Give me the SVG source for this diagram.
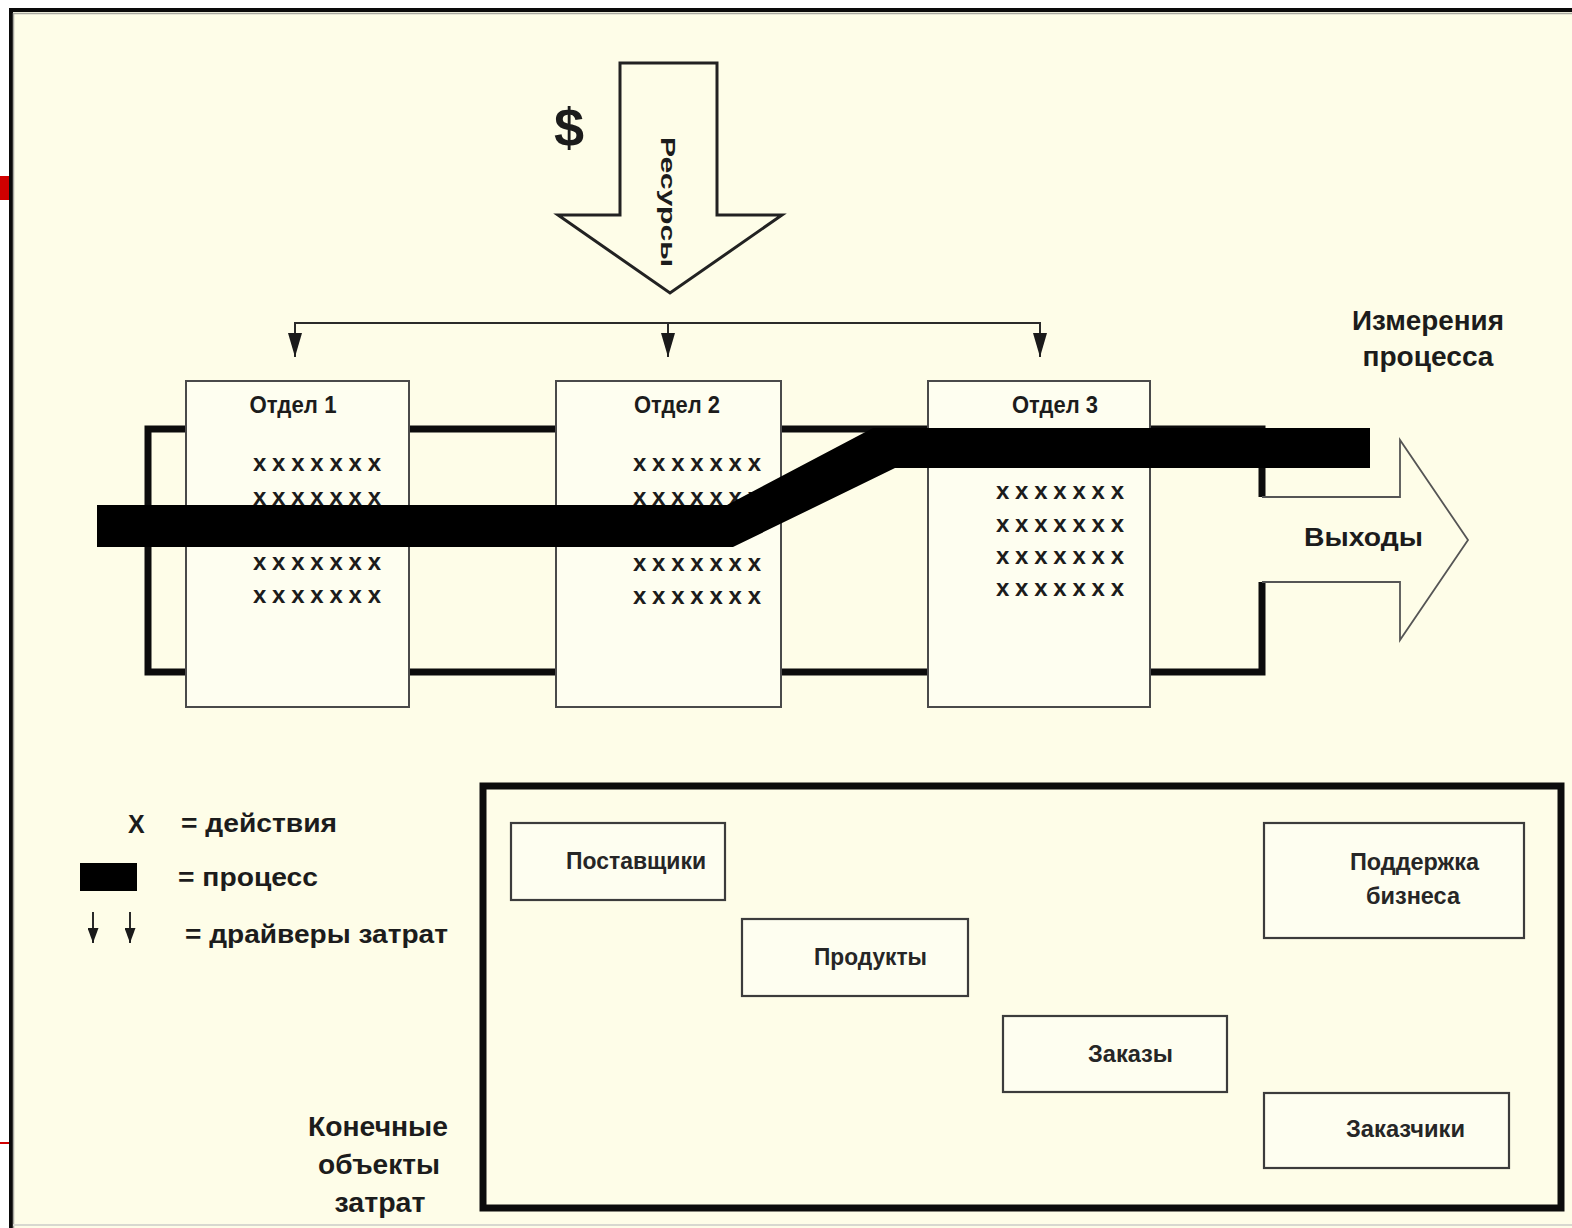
<svg xmlns="http://www.w3.org/2000/svg" width="1572" height="1228" viewBox="0 0 1572 1228">
<style>
  .t { font-family: "Liberation Sans", Arial, sans-serif; font-weight: bold; fill: #1c1c1c; }
  .dept { fill: #FEFEF0; stroke: #4a4a4a; stroke-width: 2; }
  .obj { fill: #FEFEF0; stroke: #3c3c3c; stroke-width: 2.2; }
  .ttl { font-size: 23px; }
  .xr { font-size: 24px; }
  .lbl { font-size: 24px; fill: #262626; }
  .leg { font-size: 26px; }
  .con { stroke: #2a2a2a; stroke-width: 2; fill: none; }
  .thick { stroke: #0c0c0c; stroke-width: 7; fill: none; }
</style>
<defs>
  <marker id="ah" viewBox="0 0 24 14" refX="24" refY="7" markerWidth="24" markerHeight="14" markerUnits="userSpaceOnUse" orient="auto">
    <path d="M0,0 L24,7 L0,14 z" fill="#1a1a1a"/>
  </marker>
  <marker id="ahs" viewBox="0 0 15 11" refX="15" refY="5.5" markerWidth="15" markerHeight="11" markerUnits="userSpaceOnUse" orient="auto">
    <path d="M0,0 L15,5.5 L0,11 z" fill="#1a1a1a"/>
  </marker>
</defs>

<!-- page / frame -->
<rect x="0" y="0" width="1572" height="1228" fill="#ffffff"/>
<rect x="11" y="10" width="1561" height="1218" fill="#FEFDE8"/>
<line x1="9" y1="10" x2="1572" y2="10" stroke="#0a0a0a" stroke-width="4"/>
<line x1="11" y1="8" x2="11" y2="1228" stroke="#0a0a0a" stroke-width="4"/>
<line x1="13" y1="13.5" x2="1572" y2="13.5" stroke="#a8a8a0" stroke-width="1.5"/>
<line x1="13.5" y1="13" x2="13.5" y2="1228" stroke="#a8a8a0" stroke-width="1.5"/>
<line x1="13" y1="1225" x2="1572" y2="1225" stroke="#d8d8d0" stroke-width="2"/>
<rect x="0" y="176" width="9" height="24" fill="#D00000"/>
<rect x="0" y="1142" width="9" height="2" fill="#D00000"/>

<!-- resources arrow -->
<g id="resources">
  <path d="M620,63 H717 V215 H782 L670,293 L558,215 H620 Z" fill="#FEFDE8" stroke="#222" stroke-width="3" stroke-linejoin="miter"/>
  <text class="t" transform="translate(661,202) rotate(90)" text-anchor="middle" font-size="20" textLength="130" lengthAdjust="spacingAndGlyphs">Ресурсы</text>
  <text class="t" x="569" y="146" text-anchor="middle" font-size="54">$</text>
</g>

<!-- connectors: cost drivers -->
<g id="connectors">
  <line class="con" x1="294" y1="323" x2="1041" y2="323"/>
  <line class="con" x1="295" y1="323" x2="295" y2="357" marker-end="url(#ah)"/>
  <line class="con" x1="668" y1="323" x2="668" y2="357" marker-end="url(#ah)"/>
  <line class="con" x1="1040" y1="323" x2="1040" y2="357" marker-end="url(#ah)"/>
</g>

<!-- process frame and outputs arrow -->
<g id="process-frame">
  <path class="thick" d="M1262,497 V429 H148 V672 H1262 V582"/>
  <path d="M1262,497 H1400 V440 L1468,540 L1400,640 V582 H1262" fill="none" stroke="#555" stroke-width="1.8" stroke-linejoin="miter"/>
  <text class="t" x="1304" y="546" font-size="26" textLength="119" lengthAdjust="spacingAndGlyphs">Выходы</text>
</g>

<!-- departments -->
<g id="dept1">
  <rect class="dept" x="186" y="381" width="223" height="326"/>
  <text class="t ttl" x="293" y="413" text-anchor="middle" textLength="87" lengthAdjust="spacingAndGlyphs">Отдел 1</text>
  <text class="t xr" x="253" y="471" textLength="128" lengthAdjust="spacing">xxxxxxx</text>
  <text class="t xr" x="253" y="505" textLength="128" lengthAdjust="spacing">xxxxxxx</text>
  <text class="t xr" x="253" y="570" textLength="128" lengthAdjust="spacing">xxxxxxx</text>
  <text class="t xr" x="253" y="603" textLength="128" lengthAdjust="spacing">xxxxxxx</text>
</g>
<g id="dept2">
  <rect class="dept" x="556" y="381" width="225" height="326"/>
  <text class="t ttl" x="677" y="413" text-anchor="middle" textLength="86" lengthAdjust="spacingAndGlyphs">Отдел 2</text>
  <text class="t xr" x="633" y="471" textLength="128" lengthAdjust="spacing">xxxxxxx</text>
  <text class="t xr" x="633" y="505" textLength="128" lengthAdjust="spacing">xxxxxxx</text>
  <text class="t xr" x="633" y="571" textLength="128" lengthAdjust="spacing">xxxxxxx</text>
  <text class="t xr" x="633" y="604" textLength="128" lengthAdjust="spacing">xxxxxxx</text>
</g>
<g id="dept3">
  <rect class="dept" x="928" y="381" width="222" height="326"/>
  <text class="t ttl" x="1055" y="413" text-anchor="middle" textLength="86" lengthAdjust="spacingAndGlyphs">Отдел 3</text>
  <text class="t xr" x="996" y="499" textLength="128" lengthAdjust="spacing">xxxxxxx</text>
  <text class="t xr" x="996" y="532" textLength="128" lengthAdjust="spacing">xxxxxxx</text>
  <text class="t xr" x="996" y="564" textLength="128" lengthAdjust="spacing">xxxxxxx</text>
  <text class="t xr" x="996" y="596" textLength="128" lengthAdjust="spacing">xxxxxxx</text>
</g>

<!-- process band -->
<g id="process">
  <path d="M97,505 H727 L873,428 H1370 V468 H895 L733,547 H97 Z" fill="#000"/>
</g>

<g id="measures">
  <text class="t" x="1428" y="330" text-anchor="middle" font-size="27" textLength="152" lengthAdjust="spacingAndGlyphs">Измерения</text>
  <text class="t" x="1428" y="366" text-anchor="middle" font-size="27" textLength="131" lengthAdjust="spacingAndGlyphs">процесса</text>
</g>

<!-- legend -->
<g id="legend">
  <text class="t" x="128" y="833" font-size="25">X</text>
  <text class="t leg" x="181" y="832" textLength="156" lengthAdjust="spacingAndGlyphs">= действия</text>
  <rect x="80" y="863" width="57" height="28" fill="#000"/>
  <text class="t leg" x="178" y="886" textLength="140" lengthAdjust="spacingAndGlyphs">= процесс</text>
  <line class="con" x1="93" y1="912" x2="93" y2="943" marker-end="url(#ahs)"/>
  <line class="con" x1="130" y1="912" x2="130" y2="943" marker-end="url(#ahs)"/>
  <text class="t leg" x="185" y="943" textLength="263" lengthAdjust="spacingAndGlyphs">= драйверы затрат</text>
</g>

<g id="final-objects-label">
  <text class="t" x="378" y="1136" text-anchor="middle" font-size="27" textLength="140" lengthAdjust="spacingAndGlyphs">Конечные</text>
  <text class="t" x="379" y="1174" text-anchor="middle" font-size="27" textLength="122" lengthAdjust="spacingAndGlyphs">объекты</text>
  <text class="t" x="380" y="1212" text-anchor="middle" font-size="27" textLength="91" lengthAdjust="spacingAndGlyphs">затрат</text>
</g>

<!-- final cost objects -->
<g id="objects-frame">
  <rect class="thick" x="483" y="786" width="1078" height="422"/>
</g>
<g id="suppliers">
  <rect class="obj" x="511" y="823" width="214" height="77"/>
  <text class="t lbl" x="566" y="869" textLength="140" lengthAdjust="spacingAndGlyphs">Поставщики</text>
</g>
<g id="products">
  <rect class="obj" x="742" y="919" width="226" height="77"/>
  <text class="t lbl" x="814" y="965" textLength="113" lengthAdjust="spacingAndGlyphs">Продукты</text>
</g>
<g id="orders">
  <rect class="obj" x="1003" y="1016" width="224" height="76"/>
  <text class="t lbl" x="1088" y="1062" textLength="85" lengthAdjust="spacingAndGlyphs">Заказы</text>
</g>
<g id="business-support">
  <rect class="obj" x="1264" y="823" width="260" height="115"/>
  <text class="t lbl" x="1350" y="870" textLength="129" lengthAdjust="spacingAndGlyphs">Поддержка</text>
  <text class="t lbl" x="1366" y="904" textLength="94" lengthAdjust="spacingAndGlyphs">бизнеса</text>
</g>
<g id="customers">
  <rect class="obj" x="1264" y="1093" width="245" height="75"/>
  <text class="t lbl" x="1346" y="1137" textLength="119" lengthAdjust="spacingAndGlyphs">Заказчики</text>
</g>
</svg>
